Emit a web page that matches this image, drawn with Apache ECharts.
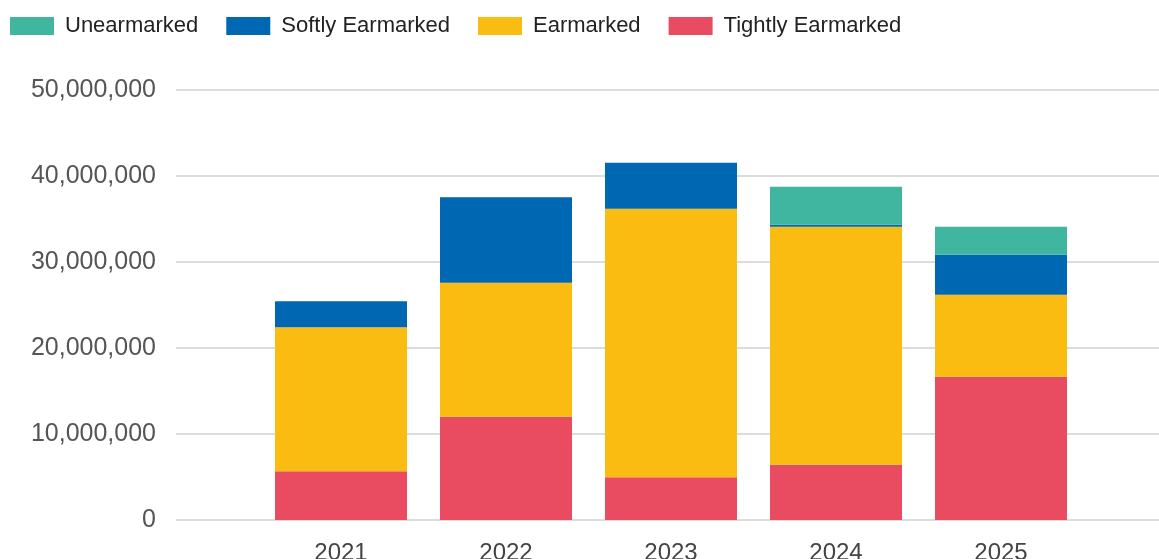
<!DOCTYPE html>
<html>
<head>
<meta charset="utf-8">
<script src="https://cdn.jsdelivr.net/npm/echarts@6/dist/echarts.min.js"></script>
<style>
html,body{margin:0;padding:0;background:#fff;}
#chart{width:1159px;height:559px;}
</style>
</head>
<body>
<div id="chart"></div>
<script>
var years = ['2021', '2022', '2023', '2024', '2025'];
var tightlyEarmarked = [5670000, 12000000, 4980000, 6420000, 16650000];
var earmarked = [16750000, 15580000, 31210000, 27670000, 9540000];
var softlyEarmarked = [3020000, 9950000, 5340000, 240000, 4650000];
var unearmarked = [0, 0, 0, 4410000, 3260000];
var yTicks = [0, 10000000, 20000000, 30000000, 40000000, 50000000];
var legendOrder = ['Unearmarked', 'Softly Earmarked', 'Earmarked', 'Tightly Earmarked'];

// axis runs from one empty slot before the first year to one after the last
var axisCats = [''].concat(years, ['']);
function padded(vals) {
  return [null].concat(vals.map(function (v) { return v === 0 ? null : v; }), [null]);
}
function fmt(v) {
  return String(v).replace(/\B(?=(\d{3})+(?!\d))/g, ',');
}

var chart = echarts.init(document.getElementById('chart'), null, {renderer: 'canvas'});
var font = '"Liberation Sans", Arial, sans-serif';
var seriesDefs = [
  {name: 'Tightly Earmarked', data: tightlyEarmarked, color: '#E94B60'},
  {name: 'Earmarked', data: earmarked, color: '#FABC10'},
  {name: 'Softly Earmarked', data: softlyEarmarked, color: '#0067B2'},
  {name: 'Unearmarked', data: unearmarked, color: '#40B5A0'}
];
chart.setOption({
  animation: false,
  textStyle: {fontFamily: font},
  legend: {
    data: legendOrder,
    left: 10,
    top: 15,
    padding: 0,
    icon: 'rect',
    itemWidth: 44,
    itemHeight: 18,
    itemGap: 28,
    textStyle: {fontSize: 22, color: '#222', fontFamily: font, padding: [0, 0, 0, 6]}
  },
  grid: {left: 176, top: 90, width: 990, bottom: 39, containLabel: false, outerBoundsMode: 'none'},
  xAxis: {
    type: 'category',
    data: axisCats,
    boundaryGap: false,
    axisLine: {show: false},
    axisTick: {show: false},
    splitLine: {show: false},
    axisLabel: {
      fontSize: 24,
      color: '#444',
      fontFamily: font,
      margin: 21,
      interval: 0
    }
  },
  yAxis: {
    type: 'value',
    min: yTicks[0],
    max: yTicks[yTicks.length - 1],
    interval: 10000000,
    axisLine: {show: false},
    axisTick: {show: false},
    splitLine: {lineStyle: {color: '#dcdcdc', width: 2}},
    axisLabel: {fontSize: 25, color: '#555', fontFamily: font, margin: 20, formatter: fmt}
  },
  series: seriesDefs.map(function (s) {
    return {
      name: s.name,
      type: 'bar',
      stack: 'total',
      barWidth: 132,
      itemStyle: {color: s.color},
      data: padded(s.data)
    };
  })
});
</script>
</body>
</html>
